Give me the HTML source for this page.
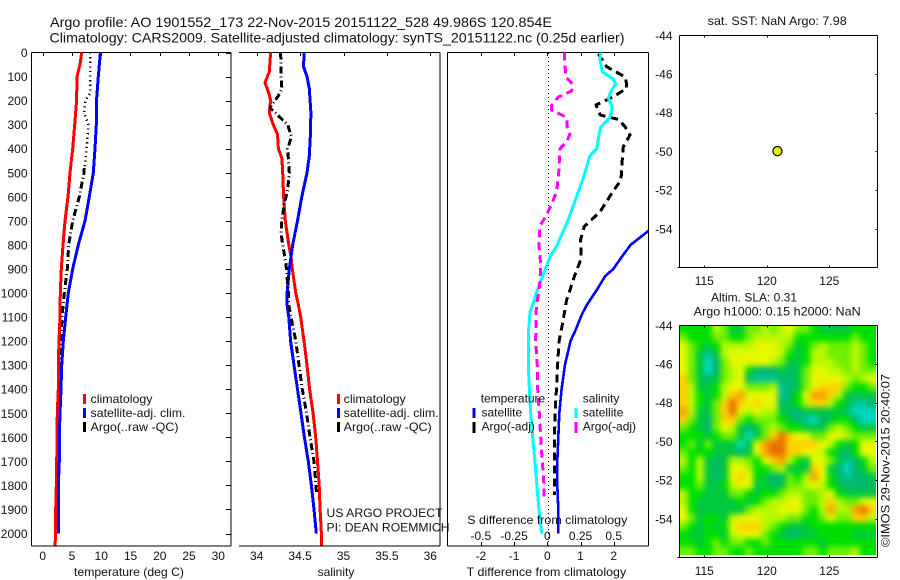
<!DOCTYPE html>
<html>
<head>
<meta charset="utf-8">
<title>Argo profile chart</title>
<style>
html,body{margin:0;padding:0;background:#fff;width:900px;height:580px;overflow:hidden}
svg{display:block}
text{font-family:"Liberation Sans",sans-serif;font-size:12px;fill:#111}
.title{font-size:14px}
.ax{stroke:#000;stroke-width:1;fill:none;shape-rendering:crispEdges}
.ser{fill:none;stroke-linejoin:round;shape-rendering:crispEdges}
</style>
</head>
<body>
<svg id="chart" width="900" height="580" viewBox="0 0 900 580" xmlns="http://www.w3.org/2000/svg">
  <defs>
    <clipPath id="clipP1"><rect x="31.5" y="52.5" width="199.5" height="493.5"/></clipPath>
    <clipPath id="clipP2"><rect x="239" y="52.5" width="201" height="493.5"/></clipPath>
    <clipPath id="clipP3"><rect x="447.5" y="52.5" width="201" height="493.5"/></clipPath>
    <clipPath id="clipHeat"><rect x="679.5" y="325.5" width="196.5" height="229.5"/></clipPath>
    <filter id="heatBlur" filterUnits="userSpaceOnUse" x="650" y="300" width="250" height="280" color-interpolation-filters="sRGB"><feGaussianBlur stdDeviation="2.8"/></filter>
  </defs>

  <text class="title" x="50" y="27" textLength="502" lengthAdjust="spacingAndGlyphs">Argo profile: AO 1901552_173 22-Nov-2015 20151122_528 49.986S 120.854E</text>
  <text class="title" x="49.5" y="42.5" textLength="575" lengthAdjust="spacingAndGlyphs">Climatology: CARS2009. Satellite-adjusted climatology: synTS_20151122.nc (0.25d earlier)</text>

  <g id="p1"></g>
  <g id="p2"></g>
  <g id="p3"></g>
  <g id="m1"></g>
  <g id="m2"></g>

  <text x="129" y="576" text-anchor="middle" textLength="110" lengthAdjust="spacingAndGlyphs">temperature (deg C)</text>
  <text x="336" y="576" text-anchor="middle">salinity</text>
  <text x="466.7" y="576" textLength="159.5" lengthAdjust="spacingAndGlyphs">T difference from climatology</text>
  <text x="467.3" y="524" textLength="160" lengthAdjust="spacingAndGlyphs">S difference from climatology</text>

  <g>
    <rect x="83" y="394" width="3" height="10" fill="#f00"/>
    <text x="90.5" y="403" textLength="62" lengthAdjust="spacingAndGlyphs">climatology</text>
    <rect x="83" y="408" width="3" height="10" fill="#00f"/>
    <text x="90.5" y="417" textLength="95" lengthAdjust="spacingAndGlyphs">satellite-adj. clim.</text>
    <rect x="83" y="422" width="3" height="10" fill="#000"/>
    <text x="90.5" y="431" textLength="88" lengthAdjust="spacingAndGlyphs">Argo(..raw -QC)</text>
  </g>
  <g>
    <rect x="337" y="394" width="3" height="10" fill="#f00"/>
    <text x="343.7" y="403" textLength="62" lengthAdjust="spacingAndGlyphs">climatology</text>
    <rect x="337" y="408" width="3" height="10" fill="#00f"/>
    <text x="343.7" y="417" textLength="95" lengthAdjust="spacingAndGlyphs">satellite-adj. clim.</text>
    <rect x="337" y="422" width="3" height="10" fill="#000"/>
    <text x="343.7" y="431" textLength="88" lengthAdjust="spacingAndGlyphs">Argo(..raw -QC)</text>
  </g>
  <g>
    <text x="480.7" y="402.5" textLength="64.5" lengthAdjust="spacingAndGlyphs">temperature</text>
    <rect x="472.5" y="408" width="3" height="10" fill="#00f"/>
    <text x="481.5" y="416.5">satellite</text>
    <rect x="472.5" y="422" width="3" height="11" fill="#000"/>
    <text x="481.5" y="430.5">Argo(-adj)</text>
    <text x="582.7" y="402.5">salinity</text>
    <rect x="574.5" y="408" width="3" height="10" fill="#0ff"/>
    <text x="582.7" y="416.5">satellite</text>
    <rect x="574.5" y="422" width="3" height="11" fill="#f0f"/>
    <text x="582.7" y="430.5">Argo(-adj)</text>
  </g>

  <text x="326.5" y="517" textLength="116" lengthAdjust="spacingAndGlyphs">US ARGO PROJECT</text>
  <text x="326.5" y="531.5" textLength="123" lengthAdjust="spacingAndGlyphs">PI: DEAN ROEMMICH</text>

  <text x="707.7" y="25" textLength="139" lengthAdjust="spacingAndGlyphs">sat. SST: NaN  Argo: 7.98</text>
  <text x="711" y="301.5" textLength="86" lengthAdjust="spacingAndGlyphs">Altim. SLA: 0.31</text>
  <text x="693.7" y="315.5" textLength="167" lengthAdjust="spacingAndGlyphs">Argo h1000: 0.15 h2000: NaN</text>
  <text transform="translate(889.5,547) rotate(-90)" textLength="173" lengthAdjust="spacingAndGlyphs">©IMOS 29-Nov-2015 20:40:07</text>
</svg>

<script>
// ---- Tick labels ----
const depthTicks = [0,100,200,300,400,500,600,700,800,900,1000,1100,1200,1300,1400,1500,1600,1700,1800,1900,2000];
const tempTicks = [0,5,10,15,20,25,30];
const salTicks = ['34','34.5','35','35.5','36'];
const tDiffTicks = [-2,-1,0,1,2];
const sDiffTicks = ['-0.5','-0.25','0','0.25','0.5'];
const lonTicks = [115,120,125];
const latTicks = [-44,-46,-48,-50,-52,-54];

// ---- Temperature panel ----
const tempClimDepth = [0,50,100,200,300,400,500,600,700,800,900,1000,1100,1200,1300,1400,1500,1600,1700,1800,1900,2000,2050];
const tempClimValues = [6.66,6.37,5.86,5.8,5.46,5.12,4.66,4.32,3.81,3.47,3.18,3.0,2.96,2.79,2.67,2.67,2.5,2.44,2.4,2.33,2.22,2.22,2.1];
const tempSatDepth = [0,100,200,300,400,500,600,700,800,900,1000,1100,1200,1300,1400,1500,1600,1700,1800,1900,2000];
const tempSatValues = [9.85,9.5,9.2,9.16,8.94,8.65,7.97,7.23,6.08,5.12,4.37,3.93,3.52,3.24,3.13,2.96,2.84,2.84,2.67,2.67,2.67];
const tempArgoShallowDepth = [0,100,170,200,250,300,400,480];
const tempArgoShallowValues = [8.08,8.08,8.08,7.28,7.05,7.8,7.5,7.1];
const tempArgoDeepDepth = [480,500,600,700,800,900,1000,1100,1200,1300,1400,1500,1600,1700,1800,2000];
const tempArgoDeepValues = [7.1,7.05,6.25,5.12,4.44,4.2,3.69,3.3,3.13,2.84,2.8,2.67,2.56,2.5,2.4,2.27];

// ---- Salinity panel ----
const salClimDepth = [0,80,125,170,200,250,300,340,400,440,500,600,700,800,850,900,1000,1050,1100,1200,1300,1400,1500,1600,1700,1800,1900,2000,2050];
const salClimValues = [34.16,34.145,34.096,34.14,34.16,34.145,34.19,34.24,34.25,34.29,34.30,34.31,34.33,34.37,34.395,34.41,34.45,34.48,34.507,34.545,34.58,34.61,34.65,34.68,34.70,34.72,34.73,34.745,34.745];
const salSatDepth = [0,60,100,150,250,350,430,500,600,700,800,900,1000,1050,1100,1200,1300,1400,1500,1600,1700,1800,1900,2000];
const salSatValues = [34.545,34.54,34.58,34.606,34.625,34.617,34.606,34.58,34.52,34.47,34.415,34.375,34.35,34.35,34.37,34.39,34.43,34.47,34.51,34.55,34.595,34.63,34.66,34.687];
const salArgoDepth = [0,100,150,180,230,270,300,350,400,500,570,630,700,750,800,880,1000,1050,1100,1200,1300,1400,1500,1600,1700,1800,1840];
const salArgoValues = [34.276,34.28,34.29,34.25,34.153,34.268,34.357,34.40,34.357,34.375,34.357,34.318,34.288,34.28,34.30,34.337,34.365,34.37,34.395,34.45,34.487,34.525,34.575,34.614,34.66,34.683,34.69];

// ---- Difference panel ----
const sDiffSatDepth = [0,30,80,110,130,160,190,230,270,310,350,400,430,500,600,700,800,850,900,1000,1040,1080,1150,1300,1400,1500,1600,1700,1800,1900,2000];
const sDiffSatValues = [0.404,0.397,0.414,0.497,0.515,0.48,0.46,0.49,0.472,0.402,0.387,0.372,0.32,0.284,0.221,0.154,0.075,0.02,-0.015,-0.083,-0.105,-0.13,-0.14,-0.143,-0.135,-0.125,-0.11,-0.093,-0.078,-0.063,-0.042];
const sDiffArgoDepth = [0,80,100,130,160,185,220,240,270,310,340,370,400,500,580,630,680,720,800,880,950,1000,1030,1080,1200,1300,1400,1500,1600,1700,1800,1850];
const sDiffArgoValues = [0.128,0.136,0.136,0.188,0.184,0.083,0.033,0.033,0.146,0.15,0.171,0.146,0.096,0.086,0.07,0.033,-0.01,-0.055,-0.063,-0.05,-0.055,-0.065,-0.075,-0.085,-0.087,-0.075,-0.072,-0.06,-0.05,-0.038,-0.025,-0.025];
const tDiffSatDepth = [600,700,741,800,850,900,930,987,1050,1090,1150,1200,1300,1400,1500,1600,1700,1800,1900,2000];
const tDiffSatValues = [4.5,3.4,3.05,2.51,2.24,1.99,1.74,1.49,1.19,1.04,0.865,0.70,0.53,0.43,0.36,0.33,0.30,0.30,0.33,0.33];
const tDiffArgoDepth = [6,59,94,107,149,184,218,260,278,308,343,392,461,530,586,662,724,780,856,925,988,1029,1126,1195,1251,1320,1390,1460,1542,1611,1708,1791,1840];
const tDiffArgoValues = [1.54,1.79,2.24,2.37,2.39,1.99,1.47,1.59,2.14,2.34,2.49,2.29,2.25,2.22,1.94,1.59,1.11,1.0,1.02,0.83,0.68,0.58,0.46,0.36,0.33,0.30,0.28,0.25,0.23,0.21,0.21,0.21,0.21];

// ---- Float position on SST map ----
const floatLon = 120.854;
const floatLat = -49.986;

// ---- SLA heatmap levels, rows north to south (0 cool ... 10 warm) ----
const heatRows = [
[4,4,4,4,6,5,3,3,5,5,6,5, 6,7,5,5,4,3,3,3,3,4,4,4],
[5,4,4,4,5,5,4,4,5,6,6,6, 6,6,4,4,4,4,4,4,4,5,4,4],
[7,5,4,3,4,6,6,6,6,7,7,7, 6,5,3,4,5,6,5,5,5,6,5,4],
[7,5,3,1,3,6,7,7,7,7,7,7, 6,4,3,4,6,6,5,5,5,6,5,4],
[7,5,3,0,2,5,7,7,7,7,7,6, 5,3,3,4,6,6,6,5,5,6,5,4],
[7,5,3,0,2,5,6,7,4,2,2,2, 3,2,3,5,7,7,6,6,5,6,5,5],
[8,5,3,2,3,5,6,7,2,1,1,1, 2,2,3,5,7,7,7,7,6,5,6,7],
[8,6,3,3,4,6,7,7,5,5,5,6, 1,2,3,5,7,8,8,8,5,4,4,5],
[8,6,4,3,4,6,8,9,7,7,7,7, 1,2,4,7,9,9,8,6,3,3,3,3],
[8,6,4,3,5,8,10,8,7,8,7,7, 2,3,4,6,8,8,6,4,3,1,1,2],
[9,6,3,3,5,8,10,7,6,7,6,6, 3,2,2,3,3,3,3,3,2,0,0,0],
[8,5,3,2,5,8,8,5,4,5,5,5, 4,3,2,1,0,2,3,4,4,2,0,0],
[5,4,3,2,5,7,6,3,2,3,5,6, 5,4,4,3,3,3,5,6,5,4,3,3],
[4,4,4,3,4,5,5,3,0,3,5,8, 10,8,7,7,5,5,7,7,6,5,5,5],
[4,5,3,5,3,3,3,0,3,7,9,10, 10,8,8,8,8,7,6,4,3,4,7,7],
[5,4,4,4,3,3,3,2,3,7,9,10, 10,8,8,7,7,6,4,3,2,4,7,7],
[6,4,6,3,2,3,6,6,5,4,7,8, 9,6,4,3,7,7,5,3,1,2,4,6],
[5,4,6,3,2,3,7,7,6,4,4,5, 6,3,3,3,8,7,3,2,0,2,3,5],
[4,4,6,3,2,3,7,8,7,4,3,2, 2,5,4,6,9,7,4,2,1,2,2,3],
[4,4,5,3,3,4,6,7,7,3,3,2, 3,5,5,6,7,6,4,3,2,2,2,2],
[6,4,4,3,3,3,5,5,4,3,4,4, 5,6,6,5,5,6,7,4,3,3,3,3],
[6,4,3,3,3,3,3,4,3,4,5,6, 6,7,7,5,5,6,8,6,5,5,7,7],
[7,4,3,3,3,3,3,3,5,6,6,6, 7,7,7,5,4,6,9,6,6,9,10,8],
[7,5,3,4,4,3,6,7,7,7,6,6, 6,5,5,4,4,5,7,5,5,8,8,6],
[5,4,3,4,3,4,7,8,8,8,6,5, 4,3,3,3,4,4,4,4,4,4,4,4],
[4,3,3,4,4,3,6,7,7,7,5,4, 3,2,2,3,3,4,4,4,4,3,3,3],
[4,4,3,4,5,4,5,5,4,4,5,4, 4,4,4,4,4,3,4,4,4,4,4,4],
[5,5,4,4,5,5,4,4,5,4,4,4, 4,4,4,5,5,4,5,5,5,6,4,4]
];
const heatColors = ['#00d8c0','#00c49a','#00b870','#00c840','#00e000','#70f000','#b8f800','#e8f800','#ffd000','#f8a000','#e87000'];

// ---- Axis functions ----
const NS = 'http://www.w3.org/2000/svg';
const yDepth = d => 52.5 + 0.2405 * d;
const xTemp = t => 42.7 + 5.853 * t;
const xSal = s => 256.7 + 86.8 * (s - 34);
const xTDiff = t => 547.3 + 33.2 * t;
const xSDiff = s => 547.3 + 132.8 * s;
const xLon = lon => 704.3 + 12.5 * (lon - 115);
const yLatTop = lat => 35.3 + 19.35 * (-44 - lat);
const yLatBottom = lat => 325.3 + 19.35 * (-44 - lat);

function node(parent, tag, attrs) {
  const el = document.createElementNS(NS, tag);
  for (const k in attrs) el.setAttribute(k, attrs[k]);
  parent.appendChild(el);
  return el;
}
function axisLine(parent, x1, y1, x2, y2, name) {
  const el = node(parent, 'line', {x1: x1, y1: y1, x2: x2, y2: y2, class: 'ax'});
  
  
}
function label(parent, x, y, anchor, str, name) {
  const el = node(parent, 'text', {x: x, y: y, 'text-anchor': anchor});
  el.textContent = str;
  
  
}
function profile(parent, depths, values, xf, color, width, dash, clip, name) {
  const pts = depths.map((d, i) => xf(values[i]).toFixed(1) + ',' + yDepth(d).toFixed(1)).join(' ');
  const attrs = {points: pts, class: 'ser', stroke: color, 'stroke-width': width, 'clip-path': 'url(#' + clip + ')'};
  if (dash) attrs['stroke-dasharray'] = dash;
  const el = node(parent, 'polyline', attrs);
  
  
}

// ---- Temperature panel ----
const p1 = document.getElementById('p1');
axisLine(p1, 31.5, 52.5, 231, 52.5, 'temperature-top-axis');
axisLine(p1, 31.5, 546, 231, 546, 'temperature-bottom-axis');
axisLine(p1, 31.5, 52.5, 31.5, 546, 'temperature-left-axis');
axisLine(p1, 231, 52.5, 231, 546, 'temperature-right-axis');
depthTicks.forEach(d => {
  axisLine(p1, 226, Math.round(yDepth(d)) + .5, 231, Math.round(yDepth(d)) + .5, 'depth-tick');
  label(p1, 27.5, yDepth(d) + 4.5, 'end', String(d), 'depth-tick-label');
});
tempTicks.forEach(t => {
  axisLine(p1, Math.round(xTemp(t)) + .5, 52.5, Math.round(xTemp(t)) + .5, 56, 'temperature-tick');
  label(p1, xTemp(t), 560, 'middle', String(t), 'temperature-tick-label');
});
profile(p1, tempArgoShallowDepth, tempArgoShallowValues, xTemp, '#000', 2.5, '1.2 3.4', 'clipP1', 'temperature-argo-line-shallow');
profile(p1, tempArgoDeepDepth, tempArgoDeepValues, xTemp, '#000', 3, '7 3 1 3', 'clipP1', 'temperature-argo-line-deep');
profile(p1, tempClimDepth, tempClimValues, xTemp, '#f00', 3, '', 'clipP1', 'temperature-climatology-line');
profile(p1, tempSatDepth, tempSatValues, xTemp, '#00f', 3, '', 'clipP1', 'temperature-satellite-line');

// ---- Salinity panel ----
const p2 = document.getElementById('p2');
axisLine(p2, 239, 52.5, 440, 52.5, 'salinity-top-axis');
axisLine(p2, 239, 546, 440, 546, 'salinity-bottom-axis');
axisLine(p2, 440, 52.5, 440, 546, 'salinity-right-axis');
salTicks.forEach(s => {
  const x = xSal(parseFloat(s));
  axisLine(p2, Math.round(x) + .5, 52.5, Math.round(x) + .5, 56, 'salinity-tick');
  label(p2, x, 560, 'middle', s, 'salinity-tick-label');
});
profile(p2, salClimDepth, salClimValues, xSal, '#f00', 3, '', 'clipP2', 'salinity-climatology-line');
profile(p2, salSatDepth, salSatValues, xSal, '#00f', 3, '', 'clipP2', 'salinity-satellite-line');
profile(p2, salArgoDepth, salArgoValues, xSal, '#000', 3, '7 3 1 3', 'clipP2', 'salinity-argo-line');

// ---- Difference panel ----
const p3 = document.getElementById('p3');
axisLine(p3, 447.5, 52.5, 648.5, 52.5, 'difference-top-axis');
axisLine(p3, 447.5, 546, 648.5, 546, 'difference-bottom-axis');
axisLine(p3, 447.5, 52.5, 447.5, 546, 'difference-left-axis');
axisLine(p3, 648.5, 52.5, 648.5, 546, 'difference-right-axis');
const zero = node(p3, 'line', {x1: 548.5, y1: 53, x2: 548.5, y2: 546, stroke: '#000', 'stroke-width': 1, 'stroke-dasharray': '1 3', 'shape-rendering': 'crispEdges'});


tDiffTicks.forEach(t => {
  const x = xTDiff(t);
  axisLine(p3, Math.round(x) + .5, 52.5, Math.round(x) + .5, 56, 'difference-top-tick');
  axisLine(p3, Math.round(x) + .5, 542, Math.round(x) + .5, 546, 'difference-bottom-tick');
  label(p3, x, 560, 'middle', String(t), 't-difference-tick-label');
});
sDiffTicks.forEach(s => {
  label(p3, xSDiff(parseFloat(s)), 540, 'middle', s, 's-difference-tick-label');
});
profile(p3, tDiffSatDepth, tDiffSatValues, xTDiff, '#00f', 2.6, '', 'clipP3', 't-difference-satellite-line');
profile(p3, tDiffArgoDepth, tDiffArgoValues, xTDiff, '#000', 3, '8 5', 'clipP3', 't-difference-argo-line');
profile(p3, sDiffSatDepth, sDiffSatValues, xSDiff, '#0ff', 3, '', 'clipP3', 's-difference-satellite-line');
profile(p3, sDiffArgoDepth, sDiffArgoValues, xSDiff, '#f0f', 3, '8 5', 'clipP3', 's-difference-argo-line');

// ---- Map frames ----
function mapFrame(parent, yLat, top, bottom, name) {
  axisLine(parent, 679.5, top, 877.5, top, name + '-top-axis');
  axisLine(parent, 679.5, bottom, 877.5, bottom, name + '-bottom-axis');
  axisLine(parent, 679.5, top, 679.5, bottom, name + '-left-axis');
  axisLine(parent, 877.5, top, 877.5, bottom, name + '-right-axis');
  axisLine(parent, 677.5, bottom, 679.5, bottom, name + '-corner-tick');
  lonTicks.forEach(l => {
    axisLine(parent, Math.round(xLon(l)) + .5, top, Math.round(xLon(l)) + .5, top + 2, name + '-lon-tick');
    axisLine(parent, Math.round(xLon(l)) + .5, bottom - 2, Math.round(xLon(l)) + .5, bottom, name + '-lon-tick');
    label(parent, xLon(l), bottom + 17.5, 'middle', String(l), name + '-lon-label');
  });
  latTicks.forEach(l => {
    axisLine(parent, 875.5, Math.round(yLat(l)) + .5, 877.5, Math.round(yLat(l)) + .5, name + '-lat-tick');
    label(parent, 672.5, yLat(l) + 4.5, 'end', String(l), name + '-lat-label');
  });
}

const m1 = document.getElementById('m1');
mapFrame(m1, yLatTop, 35.5, 267.5, 'sst-map');
const dot = node(m1, 'circle', {cx: xLon(floatLon), cy: yLatTop(floatLat), r: 4.6, fill: '#e8f000', stroke: '#000', 'stroke-width': 1.2});



// ---- SLA heatmap ----
const m2 = document.getElementById('m2');
const heatLonStart = 113.016, heatLonEnd = 128.72, heatLatStart = -44, heatLatEnd = -55.87;
const clipG = node(m2, 'g', {'clip-path': 'url(#clipHeat)'});


const blurG = node(clipG, 'g', {filter: 'url(#heatBlur)'});
const nRows = heatRows.length, nCols = heatRows[0].length;
const lonStep = (heatLonEnd - heatLonStart) / nCols;
const latStep = (heatLatStart - heatLatEnd) / nRows;
heatRows.forEach((row, j) => {
  row.forEach((v, i) => {
    let x0 = xLon(heatLonStart + i * lonStep), x1 = xLon(heatLonStart + (i + 1) * lonStep);
    let y0 = yLatBottom(heatLatStart - j * latStep), y1 = yLatBottom(heatLatStart - (j + 1) * latStep);
    if (i === 0) x0 -= 14;
    if (i === nCols - 1) x1 += 14;
    if (j === 0) y0 -= 14;
    if (j === nRows - 1) y1 += 14;
    const cell = node(blurG, 'rect', {x: x0.toFixed(2), y: y0.toFixed(2), width: (x1 - x0 + .4).toFixed(2), height: (y1 - y0 + .4).toFixed(2), fill: heatColors[v]});
    
    
  });
});
mapFrame(m2, yLatBottom, 325.5, 557.5, 'sla-map');
</script>
</body>
</html>
